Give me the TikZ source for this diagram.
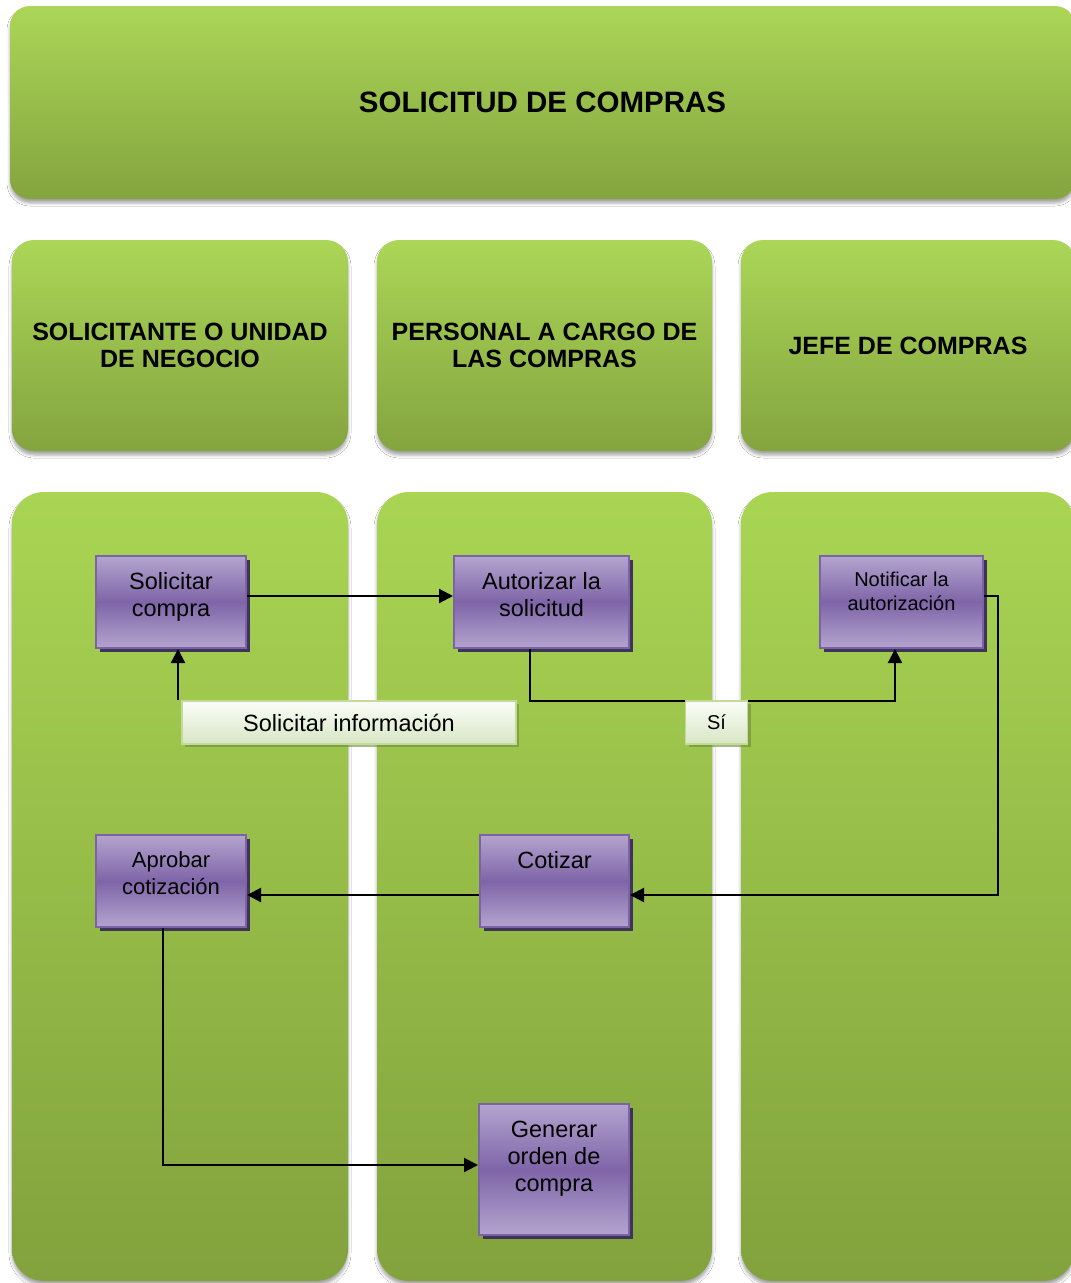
\documentclass[tikz,border=0pt]{standalone}
\usepackage{fontspec}
\setmainfont{Liberation Sans}
\usetikzlibrary{arrows.meta,shadows,shadows.blur}

\definecolor{bandtop}{HTML}{ABD657}
\definecolor{bandbot}{HTML}{84A43F}
\definecolor{lanetop}{HTML}{A9D553}
\definecolor{lanebot}{HTML}{82A23D}
\definecolor{plight}{HTML}{B4A4CF}
\definecolor{pdark}{HTML}{7F65A8}
\definecolor{pborder}{HTML}{7C62A8}
\definecolor{pshadow}{HTML}{3F3358}
\definecolor{tagtop}{HTML}{FBFDF8}
\definecolor{tagbot}{HTML}{D8E6C4}
\definecolor{tagborder}{HTML}{C3DA9C}
\definecolor{tagshadow}{HTML}{6E8A3A}

\begin{document}
\begin{tikzpicture}[x=1pt,y=-1pt,
  greenbox/.style={draw=none, top color=bandtop, bottom color=bandbot,
    blur shadow={shadow xshift=0pt, shadow yshift=-4pt, shadow blur radius=3pt, shadow opacity=35}},
  lanebox/.style={draw=none, top color=lanetop, bottom color=lanebot, rounded corners=32pt,
    blur shadow={shadow xshift=0pt, shadow yshift=-4pt, shadow blur radius=3pt, shadow opacity=35}},
  procbox/.style={draw=pborder, line width=2pt, top color=plight, bottom color=plight, middle color=pdark,
    drop shadow={shadow xshift=4pt, shadow yshift=-4pt, fill=pshadow, opacity=1}, inner sep=0pt},
  proctext/.style={anchor=north, align=center, inner sep=0pt, text=black},
  tagbox/.style={draw=tagborder, line width=1.5pt, top color=tagtop, bottom color=tagbot,
    drop shadow={shadow xshift=3pt, shadow yshift=-3pt, fill=tagshadow, opacity=0.6}, inner sep=0pt},
  arr/.style={draw=black, line width=2.2pt, -{Triangle[length=14pt,width=14pt]}},
  headfont/.style={font=\fontsize{25}{26.5}\selectfont\bfseries, align=center}
]
\useasboundingbox (0,0) rectangle (1071,1283);
\fill[white] (0,0) rectangle (1071,1283);

% title band
\node[greenbox, rounded corners=20pt, minimum width=1065pt, minimum height=193pt,
  font=\fontsize{29.5}{32}\selectfont\bfseries] (title) at (542.5,102.5) {SOLICITUD DE COMPRAS};

% column headers
\node[greenbox, rounded corners=22pt, minimum width=336pt, minimum height=211pt, headfont] (h1) at (180,345.5)
  {SOLICITANTE O UNIDAD\\DE NEGOCIO};
\node[greenbox, rounded corners=22pt, minimum width=335pt, minimum height=211pt, headfont] (h2) at (544.5,345.5)
  {PERSONAL A CARGO DE\\LAS COMPRAS};
\node[greenbox, rounded corners=22pt, minimum width=334pt, minimum height=211pt, headfont] (h3) at (908,345.5)
  {JEFE DE COMPRAS};

% swimlanes
\node[lanebox, minimum width=336pt, minimum height=789pt] (l1) at (180,886.5) {};
\node[lanebox, minimum width=335pt, minimum height=789pt] (l2) at (544.5,886.5) {};
\node[lanebox, minimum width=334pt, minimum height=789pt] (l3) at (908,886.5) {};

% process steps
\node[procbox, minimum width=150pt, minimum height=92pt] (sc) at (171,602) {};
\node[procbox, minimum width=175pt, minimum height=92pt] (au) at (541.5,602) {};
\node[procbox, minimum width=163pt, minimum height=92pt] (no) at (901.5,602) {};
\node[procbox, minimum width=150pt, minimum height=92pt] (ap) at (171,881) {};
\node[procbox, minimum width=149pt, minimum height=92pt] (co) at (554.5,881) {};
\node[procbox, minimum width=150pt, minimum height=131pt] (ge) at (554,1169.5) {};

\begin{scope}[font=\fontsize{23.5}{27}\selectfont]
\node[proctext] (sc-t) at ([yshift=-17pt]sc.north) {Solicitar\\compra};
\node[proctext] (au-t) at ([yshift=-17pt]au.north) {Autorizar la\\solicitud};
\node[proctext, font=\fontsize{20}{24}\selectfont] (no-t) at ([yshift=-17pt]no.north) {Notificar la\\autorización};
\node[proctext, font=\fontsize{22}{27}\selectfont] (ap-t) at ([yshift=-17pt]ap.north) {Aprobar\\cotización};
\node[proctext] (co-t) at ([yshift=-17pt]co.north) {Cotizar};
\node[proctext] (ge-t) at ([yshift=-18pt]ge.north) {Generar\\orden de\\compra};
\end{scope}

% connectors
\draw[arr] ([yshift=6pt]sc.east) -- ([yshift=6pt]au.west);
\draw[arr] ([xshift=-11.5pt]au.south) -- ++(0,52) -| ([xshift=-6.5pt]no.south);
\draw[arr] ([yshift=6pt]no.east) -- ++(14,0) |- ([yshift=-14pt]co.east);
\draw[arr] ([yshift=-14pt]co.west) -- ([yshift=-14pt]ap.east);
\draw[arr] ([xshift=-8pt]ap.south) |- ([yshift=4.5pt]ge.west);

% connector labels
\node[tagbox, minimum width=334pt, minimum height=43pt, font=\fontsize{23.5}{26}\selectfont] (si) at (349,722.5)
  {Solicitar información};
\node[tagbox, minimum width=62pt, minimum height=43pt, font=\fontsize{20}{24}\selectfont] (yes) at (716.5,722.5)
  {Sí};
\draw[arr] ([xshift=7pt]sc.south |- si.north) -- ([xshift=7pt]sc.south);
\end{tikzpicture}
\end{document}
